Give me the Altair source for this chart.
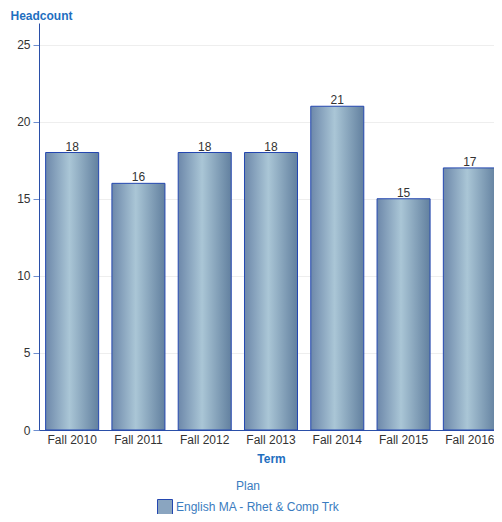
import altair as alt
import pandas as pd

terms = ["Fall 2010", "Fall 2011", "Fall 2012", "Fall 2013", "Fall 2014", "Fall 2015", "Fall 2016"]
headcount = [18, 16, 18, 18, 21, 15, 17]
plan = ["English MA - Rhet & Comp Trk"] * len(terms)

df = pd.DataFrame({"Term": terms, "Headcount": headcount, "Plan": plan})

FONT = "Liberation Sans"
BLUE = "#1f6fbf"
gradient = {
    "gradient": "linear",
    "x1": 0, "y1": 0, "x2": 1, "y2": 0,
    "stops": [
        {"offset": 0, "color": "#6d88aa"},
        {"offset": 0.45, "color": "#aac6d6"},
        {"offset": 1, "color": "#62809f"},
    ],
}

base = alt.Chart(df)

bars = base.mark_bar(fill=gradient, stroke="#2447b0", strokeWidth=1).encode(
    x=alt.X(
        "Term:N",
        sort=terms,
        scale=alt.Scale(range=[0, 464], paddingInner=0.2, paddingOuter=0.1),
        axis=alt.Axis(
            title="Term", titleColor=BLUE, titleFont=FONT, titleFontSize=12, titleFontWeight="bold",
            titlePadding=8, labelAngle=0, labelFont=FONT, labelFontSize=12, labelColor="#333",
            ticks=False, domainColor="#2a4fa8", labelPadding=4,
        ),
    ),
    y=alt.Y(
        "Headcount:Q",
        scale=alt.Scale(domain=[0, 26.4], nice=False),
        axis=alt.Axis(
            values=[0, 5, 10, 15, 20, 25], title="Headcount", titleAngle=0, titleAlign="left",
            titleBaseline="middle", titleX=-29, titleY=-8, titleColor=BLUE, titleFont=FONT,
            titleFontSize=12, titleFontWeight="bold", labelFont=FONT, labelFontSize=12,
            labelColor="#333", tickColor="#6f8fd0", tickSize=6, domainColor="#2a4fa8",
            gridColor="#eeeeee", labelPadding=3,
        ),
    ),
    color=alt.Color(
        "Plan:N",
        scale=alt.Scale(range=["#8aa5c0"]),
        legend=alt.Legend(
            title="Plan", orient="none", legendX=118, legendY=458, direction="vertical",
            titleAnchor="middle", titleFont=FONT, titleFontSize=12, titleFontWeight="normal",
            titleColor="#3a7cc0", labelFont=FONT, labelFontSize=12, labelColor="#3a7cc0",
            labelLimit=400, labelOffset=3,
            symbolType="square", symbolSize=225, symbolStrokeColor="#2447b0", symbolStrokeWidth=1,
            titlePadding=6,
        ),
    ),
)

labels = base.mark_text(dy=-2, baseline="alphabetic", font=FONT, fontSize=12, color="#333").encode(
    x=alt.X("Term:N", sort=terms),
    y="Headcount:Q",
    text="Headcount:Q",
)

chart = (bars + labels).properties(
    width=455, height=407,
    autosize=alt.AutoSizeParams(type="none"),
    padding={"left": 31, "top": 15, "right": 0, "bottom": 84},
).configure_view(stroke=None)

chart.save("out.html", embed_options={"renderer": "svg", "actions": False})
